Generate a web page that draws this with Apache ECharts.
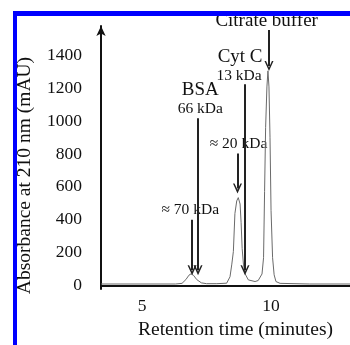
<!DOCTYPE html>
<html>
<head>
<meta charset="utf-8">
<script src="https://cdn.jsdelivr.net/npm/echarts@6/dist/echarts.min.js"></script>
<style>
  html, body { margin: 0; padding: 0; background: #fff; }
  #chart { width: 350px; height: 345px; }
</style>
</head>
<body>
<div id="chart"></div>
<script>
// chromatogram trace, retention time (min) vs absorbance (mAU)
const traceTime = [3.41, 5.0, 6.3, 6.55, 6.7, 6.82, 6.9, 7.0, 7.12, 7.3, 7.5, 7.9, 8.28, 8.41, 8.48, 8.54, 8.6, 8.67, 8.73, 8.8, 8.84, 8.88, 8.93, 8.99, 9.12, 9.38, 9.5, 9.57, 9.65, 9.71, 9.75, 9.79, 9.84, 9.88, 9.92, 9.96, 10.0, 10.06, 10.12, 10.19, 10.35, 11.5, 13.06]
const traceAbs = [8, 8, 8, 12, 35, 62, 70, 60, 35, 15, 10, 10, 13, 52, 129, 206, 437, 514, 534, 495, 381, 225, 129, 71, 33, 23, 29, 40, 69, 168, 572, 960, 1208, 1306, 1208, 902, 457, 168, 64, 23, 12, 8, 8]

const yTicks = [0, 200, 400, 600, 800, 1000, 1200, 1400]
const xTicks = [5, 10]

// annotation arrows: x position, start value, end (tip) value
const arrowTime = [9.92, 8.99, 7.17, 6.94, 8.70]
const arrowFrom = [1555, 1225, 1017, 399, 803]
const arrowTo = [1335, 92, 92, 92, 590]

// annotation labels
const labelText = ["Citrate buffer", "Cyt C", "13 kDa", "BSA", "66 kDa", "≈ 20 kDa", "≈ 70 kDa"]
const labelTime = [9.83, 8.80, 8.76, 7.26, 7.26, 8.74, 6.87]
const labelAbs = [1610, 1393, 1272, 1188, 1076, 862, 457]
const labelBig = [true, true, false, true, false, false, false]

const chart = echarts.init(document.getElementById("chart"))
const serif = "Liberation Serif"
const chevron = "path://M0,10 L5,0 L10,10 L8.3,10 L5,3.6 L1.7,10 Z"

chart.setOption({
  animation: false,
  grid: { left: 101, right: 0, top: 26, bottom: 42 },
  xAxis: {
    type: "value",
    min: 3.41,
    max: 13.06,
    name: "Retention time (minutes)",
    nameLocation: "middle",
    nameGap: 28,
    nameTextStyle: { fontFamily: serif, fontSize: 19.5, color: "#111", padding: [0, 0, 0, 20] },
    axisLine: { lineStyle: { color: "#111", width: 2 } },
    axisTick: { show: false },
    splitLine: { show: false },
    axisLabel: { customValues: xTicks, margin: 8, fontFamily: serif, fontSize: 17.5, color: "#111" },
  },
  yAxis: {
    type: "value",
    min: -23,
    max: 1579,
    name: "Absorbance at 210 nm (mAU)",
    nameLocation: "middle",
    nameRotate: 90,
    nameGap: 66,
    nameTextStyle: { fontFamily: serif, fontSize: 19.5, color: "#111", padding: [0, 36, 0, 0] },
    axisLine: { show: true, symbol: ["none", "arrow"], symbolSize: [7, 10], lineStyle: { color: "#111", width: 2 } },
    axisTick: { show: false },
    splitLine: { show: false },
    axisLabel: {
      customValues: yTicks,
      margin: 19,
      formatter: (v) => String(v),
      fontFamily: serif,
      fontSize: 17.5,
      color: "#111",
    },
  },
  series: [
    {
      type: "line",
      data: traceTime.map((t, i) => [t, traceAbs[i]]),
      showSymbol: false,
      lineStyle: { color: "#6a6a6a", width: 1 },
      markLine: {
        silent: true,
        symbol: ["none", chevron],
        symbolSize: [9, 10],
        label: { show: false },
        lineStyle: { color: "#222", width: 2, type: "solid" },
        data: arrowTime.map((t, i) => [
          { coord: [t, arrowFrom[i]] },
          { coord: [t, arrowTo[i]] },
        ]),
      },
    },
    {
      type: "scatter",
      clip: false,
      symbolSize: 0,
      silent: true,
      itemStyle: { opacity: 1 },
      data: labelText.map((s, i) => ({
        value: [labelTime[i], labelAbs[i]],
        label: {
          show: true,
          position: "inside",
          formatter: s,
          fontFamily: serif,
          fontSize: labelBig[i] ? 19 : 15.5,
          color: "#111",
        },
      })),
    },
  ],
  graphic: [
    { type: "rect", z: 100, shape: { x: 13, y: 11, width: 337, height: 5 }, style: { fill: "#0000ff" } },
    { type: "rect", z: 100, shape: { x: 13, y: 11, width: 4, height: 334 }, style: { fill: "#0000ff" } },
  ],
})
</script>
</body>
</html>
